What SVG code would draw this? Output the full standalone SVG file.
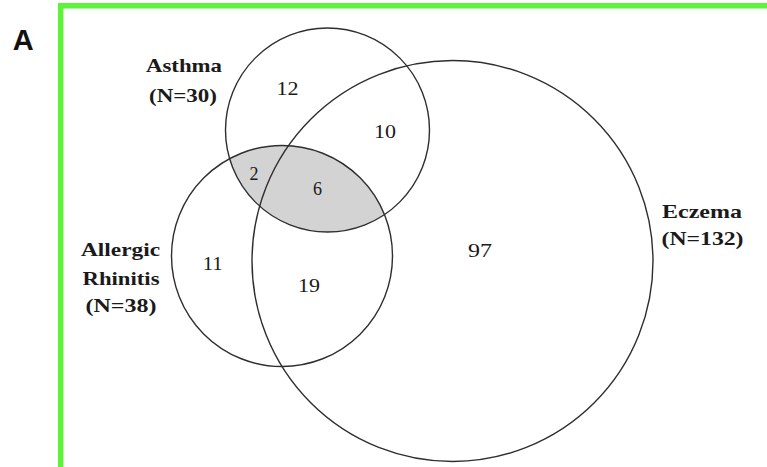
<svg xmlns="http://www.w3.org/2000/svg" width="767" height="467" viewBox="0 0 767 467">
<style>
.c{fill:none;stroke:#2e2e2e;stroke-width:1.4}
.lbl{font-family:'Liberation Serif','Times New Roman',Times,serif;font-weight:bold;font-size:19px;fill:#1a1a1a;text-anchor:middle}
.num{font-family:'Liberation Serif','Times New Roman',Times,serif;font-size:18px;fill:#1a1a1a;text-anchor:middle}
</style>
<defs>
<clipPath id="clipA"><circle cx="327.5" cy="130" r="102"/></clipPath>
</defs>
<rect width="767" height="467" fill="#ffffff"/>
<g id="frame">
<path d="M60.7,467 V5.8 H767" fill="none" stroke="#5ef23a" stroke-width="5.5"/>
<text x="12.7" y="50" font-family="'Liberation Sans',Arial,sans-serif" font-weight="bold" font-size="29" fill="#111">A</text>
</g>
<g id="shaded">
<circle cx="282" cy="256" r="110.5" clip-path="url(#clipA)" fill="#d3d3d3"/>
</g>
<g id="asthma">
<circle class="c" cx="327.5" cy="130" r="102"/>
<text class="lbl" x="184" y="72" textLength="76" lengthAdjust="spacingAndGlyphs">Asthma</text>
<text class="lbl" x="183" y="102" textLength="68" lengthAdjust="spacingAndGlyphs">(N=30)</text>
</g>
<g id="eczema">
<circle class="c" cx="452.5" cy="261" r="200.5"/>
<text class="lbl" x="702" y="218" textLength="80" lengthAdjust="spacingAndGlyphs">Eczema</text>
<text class="lbl" x="702.5" y="244.5" textLength="82" lengthAdjust="spacingAndGlyphs">(N=132)</text>
</g>
<g id="rhinitis">
<circle class="c" cx="282" cy="256" r="110.5"/>
<text class="lbl" x="120.5" y="256" textLength="79" lengthAdjust="spacingAndGlyphs">Allergic</text>
<text class="lbl" x="121" y="285" textLength="77" lengthAdjust="spacingAndGlyphs">Rhinitis</text>
<text class="lbl" x="121" y="312" textLength="71" lengthAdjust="spacingAndGlyphs">(N=38)</text>
</g>
<g id="counts">
<text class="num" x="287.5" y="95" textLength="22" lengthAdjust="spacingAndGlyphs">12</text>
<text class="num" x="385" y="138" textLength="22" lengthAdjust="spacingAndGlyphs">10</text>
<text class="num" x="254" y="180">2</text>
<text class="num" x="317.5" y="195">6</text>
<text class="num" x="480" y="257" textLength="24" lengthAdjust="spacingAndGlyphs">97</text>
<text class="num" x="309" y="292" textLength="22" lengthAdjust="spacingAndGlyphs">19</text>
<text class="num" x="212.7" y="270" textLength="20" lengthAdjust="spacingAndGlyphs">11</text>
</g>
<g id="connectors"></g>
</svg>
